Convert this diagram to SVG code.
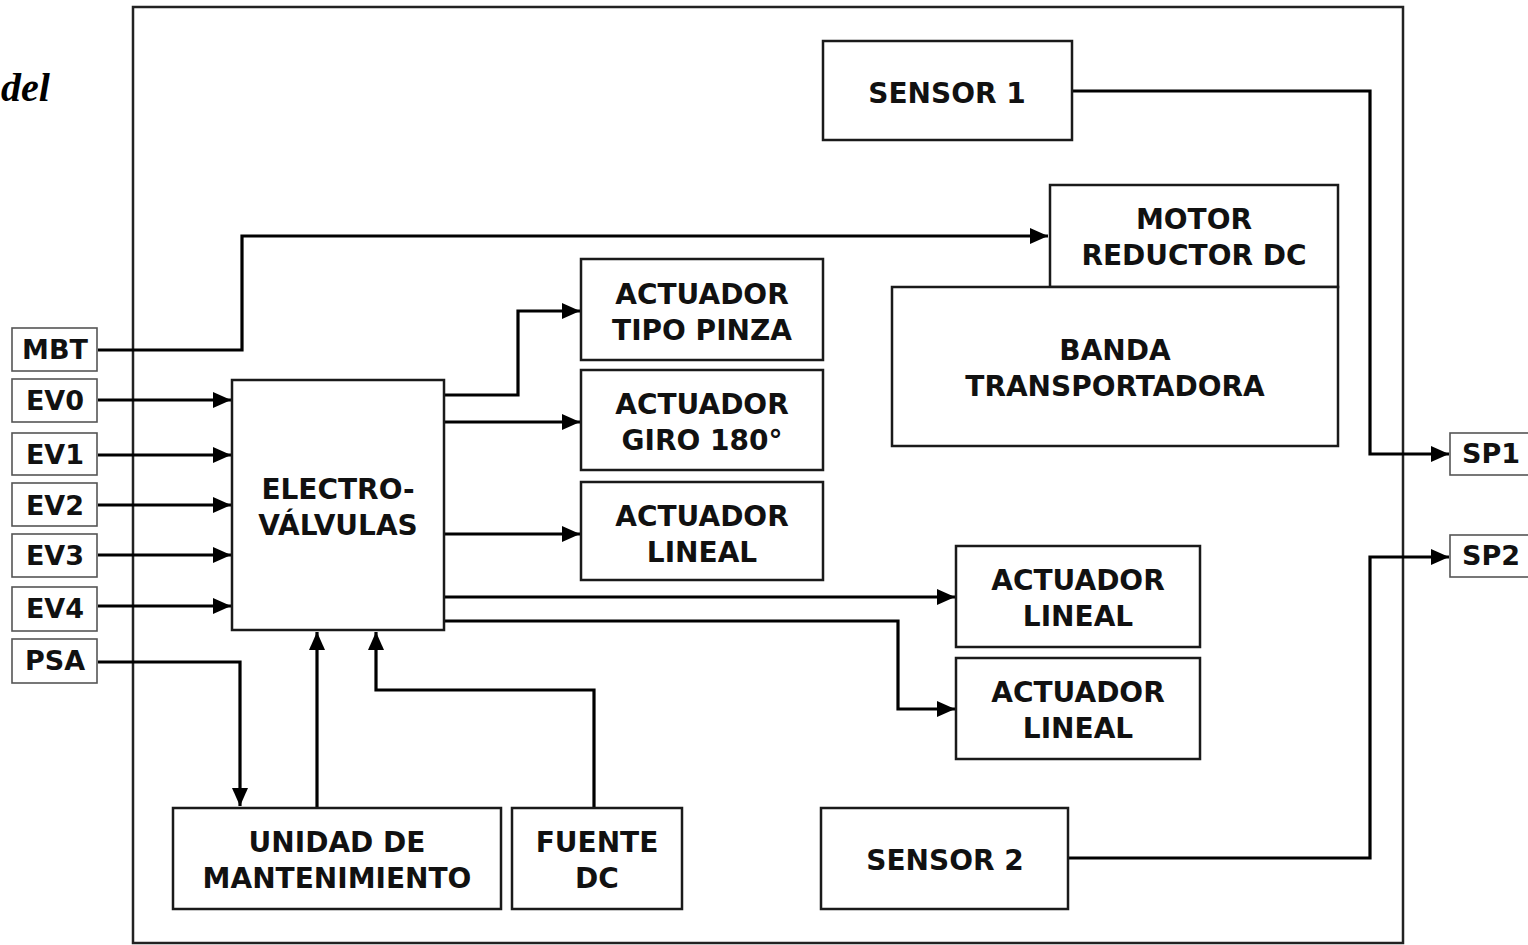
<svg xmlns="http://www.w3.org/2000/svg" width="1528" height="945" viewBox="0 0 1528 945">
<style>
.b{fill:#fff;stroke:#1a1a1a;stroke-width:2.5}
.s{fill:#fff;stroke:#555;stroke-width:1.6}
.t{font-family:"DejaVu Sans",Verdana,sans-serif;font-weight:bold;font-size:28px;fill:#111;text-anchor:middle}
.ts{font-family:"DejaVu Sans",Verdana,sans-serif;font-weight:bold;font-size:27px;fill:#111;text-anchor:middle}
.c{fill:none;stroke:#000;stroke-width:3.2}
</style>
<defs>
<marker id="a" markerUnits="userSpaceOnUse" markerWidth="19" markerHeight="16" refX="18" refY="8" orient="auto">
<path d="M0,0 L18,8 L0,16 z" fill="#000"/>
</marker>
</defs>
<rect width="1528" height="945" fill="#fff"/>
<text x="1" y="101" font-family="Liberation Serif, serif" font-style="italic" font-weight="bold" font-size="40" fill="#000">del</text>
<rect id="frame" x="133" y="7" width="1270" height="936" fill="none" stroke="#222" stroke-width="2.5"/>

<g id="connectors">
<path class="c" d="M98,350 H242 V236 H1048" marker-end="url(#a)"/>
<path class="c" d="M98,400 H231" marker-end="url(#a)"/>
<path class="c" d="M98,455 H231" marker-end="url(#a)"/>
<path class="c" d="M98,505 H231" marker-end="url(#a)"/>
<path class="c" d="M98,555 H231" marker-end="url(#a)"/>
<path class="c" d="M98,606 H231" marker-end="url(#a)"/>
<path class="c" d="M98,662 H240 V806" marker-end="url(#a)"/>
<path class="c" d="M317,808 V632" marker-end="url(#a)"/>
<path class="c" d="M594,808 V690 H376 V632" marker-end="url(#a)"/>
<path class="c" d="M444,395 H518 V311 H580" marker-end="url(#a)"/>
<path class="c" d="M444,422 H580" marker-end="url(#a)"/>
<path class="c" d="M444,534 H580" marker-end="url(#a)"/>
<path class="c" d="M444,597 H955" marker-end="url(#a)"/>
<path class="c" d="M444,621 H898 V709 H955" marker-end="url(#a)"/>
<path class="c" d="M1072,91 H1370 V454 H1449" marker-end="url(#a)"/>
<path class="c" d="M1068,858 H1370 V557 H1449" marker-end="url(#a)"/>
</g>

<g id="mbt"><rect class="s" x="12" y="328" width="85" height="43"/><text class="ts" x="55" y="359">MBT</text></g>
<g id="ev0"><rect class="s" x="12" y="379" width="85" height="43"/><text class="ts" x="55" y="410">EV0</text></g>
<g id="ev1"><rect class="s" x="12" y="433" width="85" height="42"/><text class="ts" x="55" y="464">EV1</text></g>
<g id="ev2"><rect class="s" x="12" y="483" width="85" height="43"/><text class="ts" x="55" y="515">EV2</text></g>
<g id="ev3"><rect class="s" x="12" y="534" width="85" height="43"/><text class="ts" x="55" y="565">EV3</text></g>
<g id="ev4"><rect class="s" x="12" y="587" width="85" height="44"/><text class="ts" x="55" y="618">EV4</text></g>
<g id="psa"><rect class="s" x="12" y="639" width="85" height="44"/><text class="ts" x="55" y="670">PSA</text></g>

<g id="electro"><rect class="b" x="232" y="380" width="212" height="250"/><text class="t" x="338" y="499">ELECTRO-</text><text class="t" x="338" y="535">VÁLVULAS</text></g>
<g id="pinza"><rect class="b" x="581" y="259" width="242" height="101"/><text class="t" x="702" y="304">ACTUADOR</text><text class="t" x="702" y="340">TIPO PINZA</text></g>
<g id="giro"><rect class="b" x="581" y="370" width="242" height="100"/><text class="t" x="702" y="414">ACTUADOR</text><text class="t" x="702" y="450">GIRO 180°</text></g>
<g id="lineal1"><rect class="b" x="581" y="482" width="242" height="98"/><text class="t" x="702" y="526">ACTUADOR</text><text class="t" x="702" y="562">LINEAL</text></g>
<g id="lineal2"><rect class="b" x="956" y="546" width="244" height="101"/><text class="t" x="1078" y="590">ACTUADOR</text><text class="t" x="1078" y="626">LINEAL</text></g>
<g id="lineal3"><rect class="b" x="956" y="658" width="244" height="101"/><text class="t" x="1078" y="702">ACTUADOR</text><text class="t" x="1078" y="738">LINEAL</text></g>
<g id="sensor1"><rect class="b" x="823" y="41" width="249" height="99"/><text class="t" x="947" y="103">SENSOR 1</text></g>
<g id="motor"><rect class="b" x="1050" y="185" width="288" height="102"/><text class="t" x="1194" y="229">MOTOR</text><text class="t" x="1194" y="265">REDUCTOR DC</text></g>
<g id="banda"><rect class="b" x="892" y="287" width="446" height="159"/><text class="t" x="1115" y="360">BANDA</text><text class="t" x="1115" y="396">TRANSPORTADORA</text></g>
<g id="unidad"><rect class="b" x="173" y="808" width="328" height="101"/><text class="t" x="337" y="852">UNIDAD DE</text><text class="t" x="337" y="888">MANTENIMIENTO</text></g>
<g id="fuente"><rect class="b" x="512" y="808" width="170" height="101"/><text class="t" x="597" y="852">FUENTE</text><text class="t" x="597" y="888">DC</text></g>
<g id="sensor2"><rect class="b" x="821" y="808" width="247" height="101"/><text class="t" x="945" y="870">SENSOR 2</text></g>
<g id="sp1"><rect class="s" x="1450" y="433" width="90" height="42"/><text class="ts" x="1491" y="463">SP1</text></g>
<g id="sp2"><rect class="s" x="1450" y="535" width="90" height="42"/><text class="ts" x="1491" y="565">SP2</text></g>
</svg>
